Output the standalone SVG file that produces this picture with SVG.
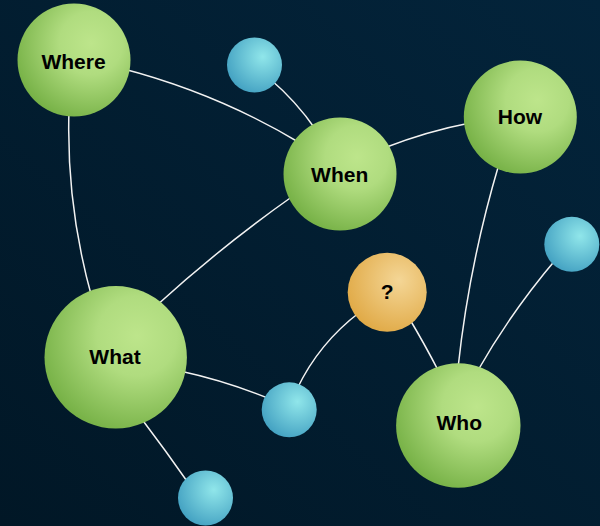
<svg xmlns="http://www.w3.org/2000/svg" width="600" height="526" viewBox="0 0 600 526">
<defs>
<linearGradient id="bg" x1="0" y1="1" x2="1" y2="0">
<stop offset="0" stop-color="#011726"/>
<stop offset="1" stop-color="#03243b"/>
</linearGradient>
<radialGradient id="gGreen" cx="0.65" cy="0.35" r="0.8" fx="0.65" fy="0.35">
<stop offset="0" stop-color="#bde58b"/>
<stop offset="0.35" stop-color="#b0dc7f"/>
<stop offset="1" stop-color="#6aa83a"/>
</radialGradient>
<radialGradient id="gCyan" cx="0.65" cy="0.35" r="0.8" fx="0.65" fy="0.35">
<stop offset="0" stop-color="#90e6ea"/>
<stop offset="1" stop-color="#3a99bd"/>
</radialGradient>
<radialGradient id="gOrange" cx="0.65" cy="0.35" r="0.8" fx="0.65" fy="0.35">
<stop offset="0" stop-color="#f4d696"/>
<stop offset="1" stop-color="#dea43c"/>
</radialGradient>
</defs>
<style>
.edge{fill:none;stroke:#f2f2f2;stroke-width:1.5}
.big{fill:url(#gGreen)}
.small{fill:url(#gCyan)}
.q{fill:url(#gOrange)}
.lbl{font-family:"Liberation Sans",Arial,sans-serif;font-weight:bold;font-size:21px;fill:#000;text-anchor:middle}
</style>
<rect width="600" height="526" fill="url(#bg)"/>
<g id="edges">
<path class="edge" d="M120,68 Q217,93 300,143"/>
<path class="edge" d="M69,110 Q66,205 92,298"/>
<path class="edge" d="M270,79 Q296,101 316,130"/>
<path class="edge" d="M384,148 Q428,131 470,123"/>
<path class="edge" d="M293,196 Q222,246 156,306"/>
<path class="edge" d="M499,164 Q469,265 458,368"/>
<path class="edge" d="M557,258 Q511,312 477,372"/>
<path class="edge" d="M409,318 Q424,343 439,372"/>
<path class="edge" d="M360,312 Q319,343 297,389"/>
<path class="edge" d="M180,371 Q226,381 270,399"/>
<path class="edge" d="M141,418 Q166,451 189,484"/>
</g>
<g id="node-where"><circle class="big" cx="74" cy="60" r="56.5"/><text class="lbl" x="73.5" y="69.3">Where</text></g>
<g id="node-when"><circle class="big" cx="340" cy="174" r="56.5"/><text class="lbl" x="339.7" y="181.7">When</text></g>
<g id="node-how"><circle class="big" cx="520.3" cy="117" r="56.5"/><text class="lbl" x="520" y="124">How</text></g>
<g id="node-what"><circle class="big" cx="115.7" cy="357.3" r="71.2"/><text class="lbl" x="115" y="364.3">What</text></g>
<g id="node-who"><circle class="big" cx="458.3" cy="425.5" r="62.2"/><text class="lbl" x="459.3" y="430">Who</text></g>
<g id="node-q"><circle class="q" cx="387.2" cy="292.2" r="39.5"/><text class="lbl" x="387.2" y="299">?</text></g>
<g id="node-c1"><circle class="small" cx="254.5" cy="65" r="27.5"/></g>
<g id="node-c2"><circle class="small" cx="571.8" cy="244.3" r="27.5"/></g>
<g id="node-c3"><circle class="small" cx="289.2" cy="409.8" r="27.5"/></g>
<g id="node-c4"><circle class="small" cx="205.5" cy="498" r="27.5"/></g>
</svg>
